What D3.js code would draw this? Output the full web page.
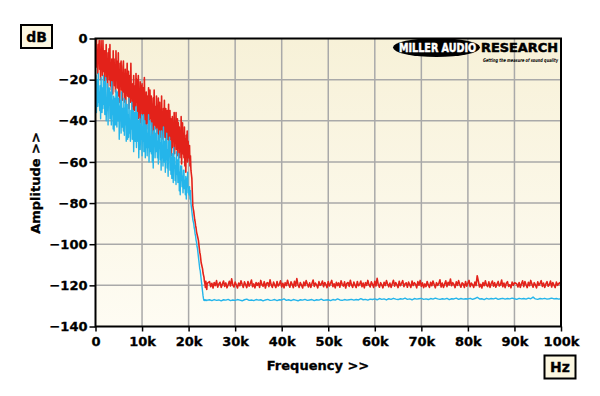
<!DOCTYPE html>
<html>
<head>
<meta charset="utf-8">
<script src="https://cdn.jsdelivr.net/npm/d3@7"></script>
<style>
  body { margin: 0; background: #fff; }
  svg { display: block; }
  text { font-family: "DejaVu Sans", Verdana, sans-serif; font-weight: bold; }
</style>
</head>
<body>
<script>
// frequency axis (kHz) and amplitude axis (dB)
var xTicks = [0, 10, 20, 30, 40, 50, 60, 70, 80, 90, 100];
var xTickLabels = ["0", "10k", "20k", "30k", "40k", "50k", "60k", "70k", "80k", "90k", "100k"];
var yTicks = [0, -20, -40, -60, -80, -100, -120, -140];

// red trace: 0..20k every 0.1k
var redLow = [
  -2, -11, 0, -14, -6, -17, -3, -9, -1, -15,
  -7, -20, -1, -14, -9, -18, -1, -12, -16, -6,
  -22, -6, -16, -3, -20, -11, -24, -7, -14, -5,
  -20, -3, -23, -12, -25, -10, -15, -27, -6, -19,
  -10, -23, -15, -26, -6, -20, -11, -24, -18, -7,
  -28, -16, -31, -12, -22, -11, -25, -19, -30, -14,
  -11, -26, -19, -31, -15, -34, -17, -24, -12, -28,
  -27, -16, -34, -22, -18, -31, -12, -29, -24, -33,
  -22, -38, -18, -29, -35, -23, -33, -17, -31, -20,
  -36, -26, -18, -39, -28, -34, -21, -41, -23, -30,
  -22, -37, -33, -24, -40, -19, -35, -28, -42, -26,
  -44, -28, -32, -41, -24, -37, -42, -25, -39, -33,
  -28, -48, -32, -37, -29, -45, -25, -42, -33, -40,
  -44, -28, -46, -33, -41, -29, -49, -36, -31, -48,
  -36, -47, -28, -45, -39, -49, -34, -43, -30, -48,
  -45, -34, -54, -40, -35, -49, -44, -32, -52, -38,
  -35, -49, -39, -57, -43, -38, -53, -41, -48, -36,
  -56, -42, -49, -36, -54, -47, -39, -57, -41, -52,
  -43, -58, -47, -54, -38, -61, -48, -41, -56, -49,
  -58, -43, -62, -49, -65, -47, -54, -45, -60, -50,
  -56
];
// red trace: 20.1k..24k every 0.1k
var redDrop = [
  -58, -52, -62, -57, -64, -66, -68, -75, -81, -83,
  -84, -86, -88, -89, -91, -92, -94, -95, -96, -97,
  -98, -100, -102, -104, -105, -107, -109, -110, -111, -112,
  -114, -115, -116, -118, -119, -121, -118, -120, -122, -119
];
// red trace: 24.5k..100k every 0.25k
var redFloor = [
  -118.2, -120.7, -119.0, -121.3, -118.6, -120.1, -117.7, -120.9, -119.3, -118.5,
  -121.0, -119.4, -117.9, -120.5, -118.8, -121.2, -119.7, -118.0, -120.3, -116.8,
  -119.9, -120.8, -118.4, -119.8, -121.3, -118.9, -120.2, -117.8, -119.5, -121.0,
  -118.3, -119.7, -121.1, -118.1, -120.4, -119.1, -117.4, -120.7, -119.3, -121.2,
  -118.6, -120.0, -118.8, -121.0, -117.6, -119.6, -120.5, -118.2, -121.3, -119.0,
  -118.7, -120.6, -117.3, -119.8, -121.0, -118.4, -119.9, -121.1, -118.1, -120.3,
  -119.4, -117.8, -120.8, -119.0, -121.2, -118.7, -120.1, -117.5, -119.6, -120.9,
  -118.3, -119.5, -121.1, -118.0, -120.4, -116.7, -119.7, -121.0, -118.6, -119.9,
  -121.3, -118.4, -120.2, -117.7, -119.3, -120.8, -118.8, -121.0, -119.1, -117.4,
  -120.5, -118.9, -119.8, -121.2, -118.2, -120.0, -119.4, -117.9, -120.7, -118.6,
  -119.7, -121.1, -118.1, -120.3, -119.0, -117.6, -120.6, -119.2, -121.2, -118.5,
  -120.1, -118.8, -120.9, -117.8, -119.5, -120.4, -118.3, -121.3, -119.0, -118.6,
  -120.5, -117.5, -119.8, -121.0, -118.4, -119.9, -121.1, -118.1, -120.2, -119.4,
  -117.9, -120.7, -118.9, -121.2, -118.7, -120.0, -117.6, -119.7, -120.8, -118.3,
  -119.5, -121.0, -118.0, -120.3, -116.6, -119.6, -120.9, -118.7, -119.8, -121.2,
  -118.5, -120.1, -117.7, -119.4, -120.7, -118.9, -121.0, -119.2, -117.5, -120.4,
  -118.6, -119.8, -121.1, -118.0, -120.2, -119.0, -117.7, -120.6, -119.3, -118.8,
  -120.9, -118.4, -119.7, -121.0, -117.9, -120.1, -118.7, -119.5, -121.2, -118.2,
  -119.9, -117.6, -120.5, -118.8, -121.1, -119.3, -120.6, -118.1, -119.8, -121.0,
  -118.5, -120.2, -117.9, -119.6, -121.2, -118.7, -120.0, -119.1, -117.3, -120.8,
  -118.9, -121.0, -119.4, -117.8, -120.6, -118.5, -119.8, -116.9, -120.2, -118.7,
  -119.6, -121.1, -118.3, -120.0, -117.7, -119.5, -120.9, -118.8, -119.3, -121.0,
  -118.1, -120.4, -119.0, -117.6, -120.7, -118.9, -119.7, -121.0, -118.4, -120.1,
  -115.3, -118.0, -120.8, -119.5, -121.3, -118.6, -120.2, -117.8, -119.9, -120.6,
  -118.3, -121.0, -119.1, -117.9, -120.4, -118.7, -120.9, -119.4, -118.1, -120.3,
  -119.6, -117.4, -120.7, -118.9, -121.1, -119.0, -118.2, -120.5, -119.7, -121.2,
  -118.4, -120.0, -118.8, -118.9, -119.3, -120.8, -118.6, -121.0, -119.2, -117.8,
  -120.6, -118.1, -119.7, -121.1, -118.5, -120.2, -117.6, -119.4, -120.9, -118.7,
  -119.8, -121.2, -118.3, -120.0, -119.1, -117.7, -120.5, -118.9, -121.0, -119.3,
  -118.2, -120.4, -119.6, -117.9, -120.8, -118.6, -119.9, -121.1, -118.4, -120.0,
  -119.1, -118.6, -120.3
];

// cyan trace: 0..20k every 0.1k
var cyanLow = [
  -29, -18, -36, -24, -20, -33, -17, -31, -26, -35,
  -23, -39, -19, -30, -36, -24, -34, -18, -32, -21,
  -37, -27, -19, -40, -29, -35, -22, -42, -24, -31,
  -24, -39, -35, -26, -42, -21, -37, -30, -44, -28,
  -45, -29, -33, -42, -25, -38, -43, -26, -40, -34,
  -29, -49, -33, -38, -30, -46, -26, -43, -34, -41,
  -45, -29, -47, -34, -42, -30, -50, -37, -32, -49,
  -37, -48, -29, -46, -40, -50, -35, -44, -31, -49,
  -46, -35, -55, -41, -36, -50, -45, -33, -53, -39,
  -36, -50, -40, -58, -44, -39, -54, -42, -49, -37,
  -57, -43, -50, -37, -55, -48, -40, -58, -42, -53,
  -42, -57, -46, -53, -37, -60, -47, -40, -55, -48,
  -56, -41, -60, -47, -63, -45, -52, -43, -58, -48,
  -46, -55, -44, -58, -50, -61, -47, -53, -45, -59,
  -51, -64, -45, -58, -53, -62, -43, -56, -60, -50,
  -65, -49, -59, -46, -63, -54, -67, -50, -57, -48,
  -64, -50, -66, -58, -68, -56, -60, -70, -53, -63,
  -58, -69, -62, -71, -55, -66, -59, -70, -65, -56,
  -74, -65, -76, -62, -69, -62, -72, -67, -75, -64,
  -64, -73, -69, -76, -67, -78, -68, -72, -65, -75,
  -74
];
// cyan trace: 20.1k..24k every 0.1k
var cyanDrop = [
  -76, -72, -78, -74, -80, -82, -84, -86, -88, -89,
  -90, -92, -93, -95, -96, -98, -99, -101, -102, -104,
  -106, -108, -110, -112, -113, -115, -117, -119, -121, -123,
  -125, -126.5, -127.2, -127, -127.4, -127, -127.3, -127.1, -127.4, -127.2
];
// cyan trace: 24.5k..100k every 0.5k
var cyanFloor = [
  -127.0, -127.4, -126.9, -127.3, -127.1, -127.5, -127.0, -127.2, -126.8, -127.4, -127.1,
  -127.3, -126.9, -127.2, -127.5, -127.0, -126.7, -127.3, -127.1, -127.4, -126.9,
  -127.2, -127.0, -127.5, -127.1, -126.8, -127.3, -127.2, -126.9, -127.4, -127.0,
  -127.1, -126.6, -127.3, -127.0, -127.4, -126.9, -127.2, -127.5, -127.0, -127.2,
  -126.8, -127.3, -127.1, -126.9, -127.4, -127.0, -127.2, -126.7, -127.3, -127.1,
  -127.0, -127.4, -126.9, -127.2, -126.6, -127.1, -127.3, -126.9, -127.2, -127.0,
  -126.8, -127.2, -126.9, -127.1, -126.5, -127.0, -126.8, -127.2, -126.7, -126.9,
  -126.6, -127.0, -126.4, -126.8, -126.6, -127.1, -126.5, -126.8, -126.3, -126.7,
  -126.9, -126.5, -126.7, -126.2, -126.8, -126.6, -127.0, -126.4, -126.7, -126.5,
  -126.3, -126.8, -126.6, -126.9, -126.4, -126.7, -126.2, -126.6, -126.8, -126.5,
  -126.7, -126.3, -126.9, -126.5, -126.6, -126.2, -126.8, -126.4, -126.7, -126.5,
  -126.6, -126.3, -126.8, -126.4, -125.8, -126.6, -126.5, -126.9, -126.3, -126.7,
  -126.4, -126.6, -126.2, -126.8, -126.5, -126.3, -126.7, -126.4, -126.6, -126.2,
  -126.5, -126.8, -126.3, -126.6, -126.4, -126.7, -126.2, -126.5, -125.7, -126.6,
  -126.8, -126.4, -126.6, -126.3, -126.7, -126.5, -126.2, -126.6, -126.4, -126.7, -126.5
];

var width = 600, height = 396;
var plotLeft = 95.5, plotRight = 561, plotTop = 38.5, plotBottom = 326.5;

// each segment: first frequency (kHz) and spacing (kHz)
function toPoints(segments) {
  var pts = [];
  segments.forEach(function(s) {
    s.values.forEach(function(v, i) { pts.push([s.start + i * s.step, v]); });
  });
  return pts;
}
var redPts = toPoints([
  {start: 0, step: 0.1, values: redLow},
  {start: 20.1, step: 0.1, values: redDrop},
  {start: 24.5, step: 0.25, values: redFloor}
]);
var cyanPts = toPoints([
  {start: 0, step: 0.1, values: cyanLow},
  {start: 20.1, step: 0.1, values: cyanDrop},
  {start: 24.5, step: 0.5, values: cyanFloor}
]);

var x = d3.scaleLinear().domain([0, 100]).range([plotLeft, plotRight]);
var y = d3.scaleLinear().domain([0, -140]).range([plotTop, plotBottom]);

var svg = d3.select("body").append("svg")
  .attr("width", width).attr("height", height);

var defs = svg.append("defs");
var grad = defs.append("linearGradient").attr("id", "bg")
  .attr("x1", 0).attr("y1", 0).attr("x2", 0).attr("y2", 1);
grad.append("stop").attr("offset", "0%").attr("stop-color", "#f7f1d8");
grad.append("stop").attr("offset", "100%").attr("stop-color", "#fefcf3");
defs.append("clipPath").attr("id", "clip").append("rect")
  .attr("x", plotLeft).attr("y", plotTop)
  .attr("width", plotRight - plotLeft).attr("height", plotBottom - plotTop);

svg.append("rect")
  .attr("x", plotLeft).attr("y", plotTop)
  .attr("width", plotRight - plotLeft).attr("height", plotBottom - plotTop)
  .attr("fill", "url(#bg)");

// grid
svg.append("g").selectAll("line").data(xTicks.slice(1, -1)).enter().append("line")
  .attr("x1", function(d) { return x(d); }).attr("x2", function(d) { return x(d); })
  .attr("y1", plotTop).attr("y2", plotBottom)
  .attr("stroke", "#a9a9a9").attr("stroke-width", 1.5);
svg.append("g").selectAll("line").data(yTicks.slice(1, -1)).enter().append("line")
  .attr("y1", function(d) { return y(d); }).attr("y2", function(d) { return y(d); })
  .attr("x1", plotLeft).attr("x2", plotRight)
  .attr("stroke", "#a9a9a9").attr("stroke-width", 1.5);

var line = d3.line()
  .x(function(d) { return x(d[0]); })
  .y(function(d) { return y(d[1]); });

var traces = svg.append("g").attr("clip-path", "url(#clip)");
traces.append("path").attr("d", line(redPts))
  .attr("fill", "none").attr("stroke", "#e3221a").attr("stroke-width", 1.6)
  .attr("stroke-linejoin", "round");
traces.append("path").attr("d", line(cyanPts))
  .attr("fill", "none").attr("stroke", "#25b5ea").attr("stroke-width", 1.4)
  .attr("stroke-linejoin", "round");

// logo
var logo = svg.append("g");
logo.append("ellipse").attr("cx", 436.5).attr("cy", 47.5).attr("rx", 43.5).attr("ry", 9.5)
  .attr("fill", "#000");
logo.append("text").attr("transform", "translate(399,52) scale(1,1.3)")
  .attr("font-size", 9.6).attr("fill", "#fff").attr("stroke", "#fff").attr("stroke-width", 0.4)
  .text("MILLER AUDIO");
logo.append("text").attr("x", 481).attr("y", 52)
  .attr("textLength", 77).attr("lengthAdjust", "spacingAndGlyphs")
  .attr("font-size", 12.5).attr("fill", "#000").attr("stroke", "#000").attr("stroke-width", 0.5)
  .text("RESEARCH");
logo.append("text").attr("x", 483).attr("y", 61.5)
  .attr("textLength", 75).attr("lengthAdjust", "spacingAndGlyphs")
  .attr("font-size", 5).attr("font-style", "italic").attr("fill", "#000")
  .text("Getting the measure of sound quality");

// frame
svg.append("rect")
  .attr("x", plotLeft).attr("y", plotTop)
  .attr("width", plotRight - plotLeft).attr("height", plotBottom - plotTop)
  .attr("fill", "none").attr("stroke", "#000").attr("stroke-width", 2);

// axes
var xAxis = svg.append("g").attr("transform", "translate(0," + plotBottom + ")")
  .call(d3.axisBottom(x).tickValues(xTicks)
    .tickFormat(function(d, i) { return xTickLabels[i]; })
    .tickSize(5).tickPadding(5));
var yAxis = svg.append("g").attr("transform", "translate(" + plotLeft + ",0)")
  .call(d3.axisLeft(y).tickValues(yTicks).tickSize(6).tickPadding(2));
[xAxis, yAxis].forEach(function(a) {
  a.select(".domain").remove();
  a.selectAll(".tick line").attr("stroke", "#000").attr("stroke-width", 1.5);
  a.selectAll(".tick text").attr("fill", "#000").attr("stroke", "#000").attr("stroke-width", 0.3)
    .style("font-family", "'DejaVu Sans', Verdana, sans-serif")
    .style("font-weight", "bold").style("font-size", "13px");
});

// axis titles
svg.append("text").attr("x", 318).attr("y", 370).attr("text-anchor", "middle")
  .attr("font-size", 13).attr("stroke", "#000").attr("stroke-width", 0.3).text("Frequency >>");
svg.append("text").attr("transform", "translate(40,183) rotate(-90)")
  .attr("text-anchor", "middle").attr("font-size", 13)
  .attr("stroke", "#000").attr("stroke-width", 0.3).text("Amplitude >>");

// unit boxes
function unitBox(x0, y0, w, h, label) {
  svg.append("rect").attr("x", x0).attr("y", y0).attr("width", w).attr("height", h)
    .attr("fill", "#fcf7e1").attr("stroke", "#000").attr("stroke-width", 2);
  svg.append("text").attr("x", x0 + w / 2).attr("y", y0 + h / 2 + 5)
    .attr("text-anchor", "middle").attr("font-size", 14)
    .attr("stroke", "#000").attr("stroke-width", 0.3).text(label);
}
unitBox(21, 25, 31, 23, "dB");
unitBox(544.5, 355.5, 31, 23, "Hz");
</script>
</body>
</html>
